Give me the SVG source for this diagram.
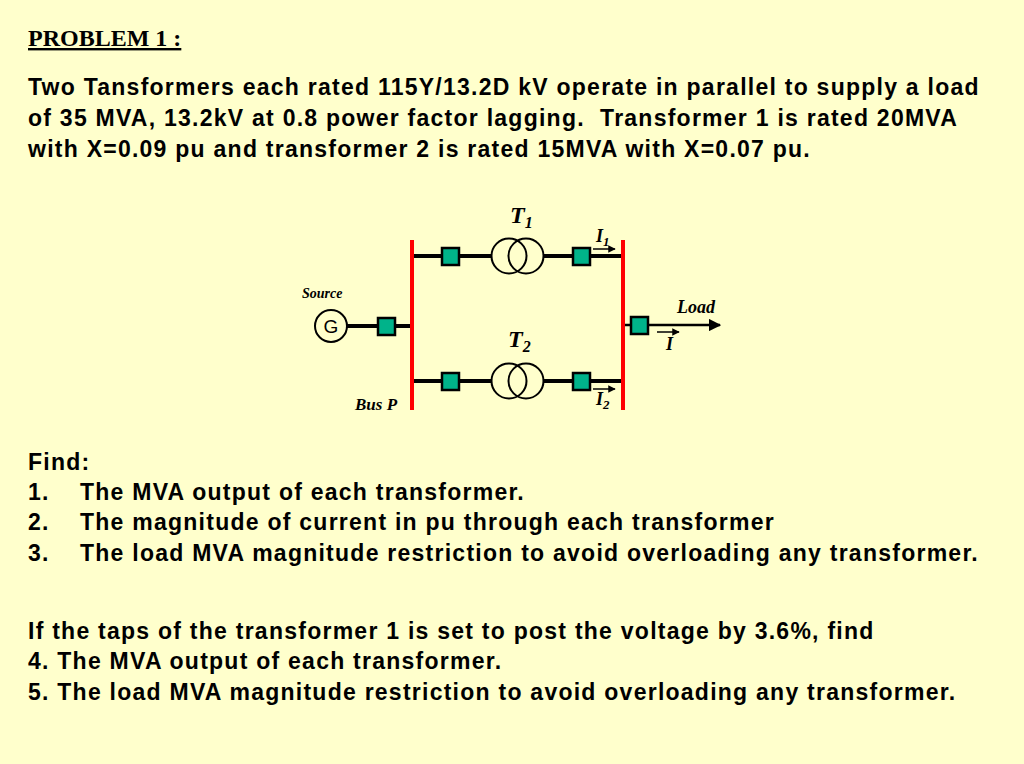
<svg xmlns="http://www.w3.org/2000/svg" width="1024" height="764" viewBox="0 0 1024 764">
<defs>
<style>
.t{font-family:"Liberation Sans",Arial,sans-serif;font-weight:bold;font-size:23px;letter-spacing:1.25px;fill:#000}
.s{font-family:"Liberation Serif","Times New Roman",serif;font-weight:bold;font-style:italic;fill:#000}
.bus{stroke:#ff0000;stroke-width:4}
.w{stroke:#000;stroke-width:4;fill:none}
.box{fill:#00b38a;stroke:#000;stroke-width:2.5}
.c{fill:none;stroke:#000;stroke-width:2}
</style>
<marker id="ah" viewBox="0 0 10 10" refX="9" refY="5" markerWidth="5" markerHeight="5" orient="auto"><path d="M0,0L10,5L0,10z" fill="#000"/></marker>
</defs>
<rect width="1024" height="764" fill="#ffffcc"/>
<text x="28" y="46" font-family="Liberation Serif,serif" font-weight="bold" font-size="24" text-decoration="underline">PROBLEM 1 :</text>
<text class="t" x="28" y="95">Two Tansformers each rated 115Y/13.2D kV operate in parallel to supply a load</text>
<text class="t" x="28" y="126">of 35 MVA, 13.2kV at 0.8 power factor lagging.&#160;&#160;Transformer 1 is rated 20MVA</text>
<text class="t" x="28" y="157">with X=0.09 pu and transformer 2 is rated 15MVA with X=0.07 pu.</text>
<g id="connectors">
<line class="w" x1="347" y1="326" x2="412" y2="326"/>
<line class="w" x1="414" y1="256" x2="491" y2="256"/>
<line class="w" x1="544" y1="256" x2="622" y2="256"/>
<line class="w" x1="414" y1="381" x2="491" y2="381"/>
<line class="w" x1="544" y1="381" x2="622" y2="381"/>
<line stroke="#000" stroke-width="2.5" x1="622" y1="325" x2="720" y2="325" marker-end="url(#ah)"/>
<line stroke="#000" stroke-width="1.5" x1="593" y1="249" x2="615" y2="249" marker-end="url(#ah)"/>
<line stroke="#000" stroke-width="1.5" x1="593" y1="389" x2="615" y2="389" marker-end="url(#ah)"/>
<line stroke="#000" stroke-width="1.5" x1="657" y1="332" x2="679" y2="332" marker-end="url(#ah)"/>
</g>
<g id="busP"><line class="bus" x1="412" y1="240" x2="412" y2="410"/><text class="s" x="355" y="410" font-size="17">Bus P</text></g>
<g id="busLoad"><line class="bus" x1="623" y1="240" x2="623" y2="410"/></g>
<g id="source"><circle cx="331" cy="326" r="16" fill="none" stroke="#000" stroke-width="2"/><text x="331" y="333" text-anchor="middle" font-family="Liberation Sans,sans-serif" font-size="19">G</text><text class="s" x="302" y="298" font-size="14">Source</text></g>
<g id="cb0"><rect class="box" x="378" y="318" width="17" height="17"/></g>
<g id="T1"><rect class="box" x="442" y="248" width="17" height="17"/><circle class="c" cx="509" cy="256" r="17.5"/><circle class="c" cx="526" cy="256" r="17.5"/><rect class="box" x="573" y="248" width="17" height="17"/><text class="s" x="510" y="223" font-size="24">T<tspan font-size="16" dy="5">1</tspan></text><text class="s" x="596" y="242" font-size="18">I<tspan font-size="13" dy="4">1</tspan></text></g>
<g id="T2"><rect class="box" x="442" y="373" width="17" height="17"/><circle class="c" cx="509" cy="381" r="17.5"/><circle class="c" cx="526" cy="381" r="17.5"/><rect class="box" x="573" y="373" width="17" height="17"/><text class="s" x="508" y="347" font-size="24">T<tspan font-size="16" dy="5">2</tspan></text><text class="s" x="596" y="405" font-size="18">I<tspan font-size="13" dy="4">2</tspan></text></g>
<g id="load"><rect class="box" x="631" y="317" width="17" height="17"/><text class="s" x="677" y="313" font-size="18">Load</text><text class="s" x="666" y="350" font-size="18">I</text></g>
<text class="t" x="28" y="470">Find:</text>
<text class="t" x="28" y="500">1.</text><text class="t" x="80" y="500">The MVA output of each transformer.</text>
<text class="t" x="28" y="530">2.</text><text class="t" x="80" y="530">The magnitude of current in pu through each transformer</text>
<text class="t" x="28" y="561">3.</text><text class="t" x="80" y="561">The load MVA magnitude restriction to avoid overloading any transformer.</text>
<text class="t" x="28" y="639">If the taps of the transformer 1 is set to post the voltage by 3.6%, find</text>
<text class="t" x="28" y="669">4. The MVA output of each transformer.</text>
<text class="t" x="28" y="700">5. The load MVA magnitude restriction to avoid overloading any transformer.</text>
</svg>
